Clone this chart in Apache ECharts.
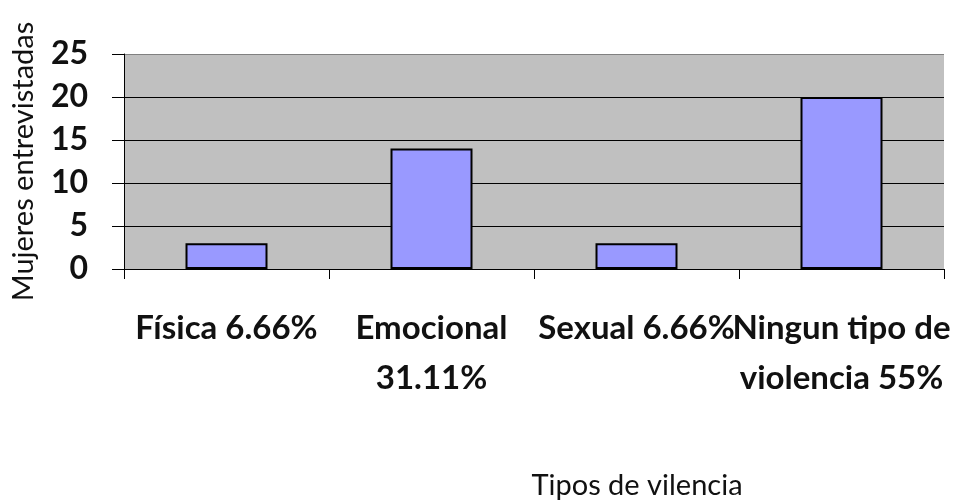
<!DOCTYPE html>
<html>
<head>
<meta charset="utf-8">
<script src="https://cdn.jsdelivr.net/npm/echarts@6/dist/echarts.min.js"></script>
<style>
  html, body { margin: 0; padding: 0; background: #fff; }
  #chart { width: 958px; height: 501px; }
</style>
</head>
<body>
<div id="chart"></div>
<script>
// tipos de violencia y numero de mujeres
var categorias = ['Física 6.66%', 'Emocional\n31.11%', 'Sexual 6.66%', 'Ningun tipo de\nviolencia 55%']
var mujeres = [3, 14, 3, 20]
var yTicks = [0, 5, 10, 15, 20, 25]

var chart = echarts.init(document.getElementById('chart'))
var option = {
  animation: false,
  textStyle: { fontFamily: 'Lato' },
  grid: {
    left: 124,
    right: 14,
    top: 54,
    bottom: 229,
    show: true,
    backgroundColor: '#c0c0c0',
    borderWidth: 0
  },
  xAxis: {
    type: 'category',
    data: categorias,
    name: 'Tipos de vilencia',
    nameLocation: 'middle',
    nameGap: 202,
    nameTextStyle: {
      fontSize: 29,
      color: '#111',
      padding: [0, 0, 0, 206]
    },
    axisLine: { lineStyle: { color: '#000', width: 1 } },
    axisTick: { show: true, length: 10, lineStyle: { color: '#000' } },
    axisLabel: {
      interval: 0,
      margin: 34,
      fontSize: 33,
      fontWeight: 'bold',
      color: '#111',
      lineHeight: 50
    }
  },
  yAxis: {
    type: 'value',
    min: yTicks[0],
    max: yTicks[yTicks.length - 1],
    interval: 5,
    name: 'Mujeres entrevistadas',
    nameLocation: 'middle',
    nameGap: 86,
    nameTextStyle: { fontSize: 29, color: '#111' },
    axisLine: { show: true, lineStyle: { color: '#000', width: 1 } },
    axisTick: { show: true, length: 12, lineStyle: { color: '#000' } },
    axisLabel: {
      margin: 36,
      fontSize: 32,
      fontWeight: 'bold',
      color: '#111'
    },
    splitLine: {
      lineStyle: {
        color: ['#000', '#000', '#000', '#000', '#000', '#808080'],
        width: 1
      }
    }
  },
  series: [{
    type: 'bar',
    data: mujeres,
    barWidth: '40%',
    itemStyle: {
      color: '#9999ff',
      borderColor: '#000',
      borderWidth: 2
    }
  }]
}
chart.setOption(option)
</script>
</body>
</html>
